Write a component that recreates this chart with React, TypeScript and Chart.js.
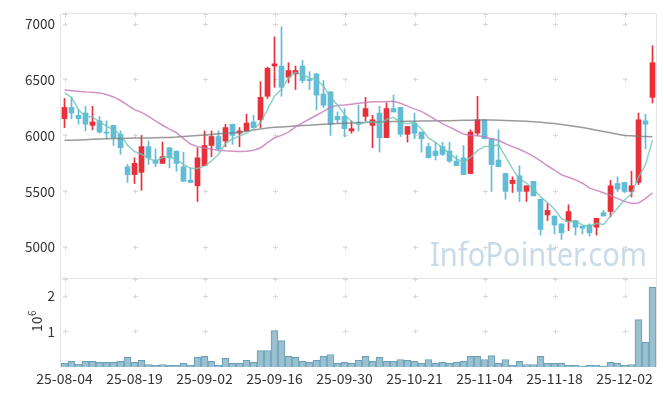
import React, { useEffect, useRef } from "react";
import { Chart, registerables } from "chart.js";

Chart.register(...registerables);

const dates = [
  "25-08-04","25-08-05","25-08-06","25-08-07","25-08-08","25-08-11","25-08-12","25-08-13","25-08-14","25-08-18",
  "25-08-19","25-08-20","25-08-21","25-08-22","25-08-25","25-08-26","25-08-27","25-08-28","25-08-29","25-09-01",
  "25-09-02","25-09-03","25-09-04","25-09-05","25-09-08","25-09-09","25-09-10","25-09-11","25-09-12","25-09-15",
  "25-09-16","25-09-17","25-09-18","25-09-19","25-09-22","25-09-23","25-09-24","25-09-25","25-09-26","25-09-29",
  "25-09-30","25-10-01","25-10-02","25-10-10","25-10-13","25-10-14","25-10-15","25-10-16","25-10-17","25-10-20",
  "25-10-21","25-10-22","25-10-23","25-10-24","25-10-27","25-10-28","25-10-29","25-10-30","25-10-31","25-11-03",
  "25-11-04","25-11-05","25-11-06","25-11-07","25-11-10","25-11-11","25-11-12","25-11-13","25-11-14","25-11-17",
  "25-11-18","25-11-19","25-11-20","25-11-21","25-11-24","25-11-25","25-11-26","25-11-27","25-11-28","25-12-01",
  "25-12-02","25-12-03","25-12-04","25-12-05","25-12-08",
];

const opens = [
  6150,6250,6180,6200,6090,6130,6030,6090,6010,5720,
  5650,5670,5900,5780,5750,5890,5860,5720,5600,5550,
  5730,5910,5990,5950,6100,6020,6040,6120,6140,6350,
  6620,6620,6520,6550,6620,6500,6550,6370,6390,6170,
  6170,6040,6120,6170,6090,6200,5980,6240,6250,6010,
  6110,6030,5900,5860,5900,5860,5770,5800,5660,6020,
  6140,5970,5780,5660,5570,5640,5500,5590,5430,5290,
  5280,5210,5230,5240,5190,5200,5180,5310,5320,5570,
  5580,5500,5580,6130,6340,
];
const highs = [
  6330,6340,6230,6260,6260,6170,6130,6090,6040,5740,
  5800,6000,5950,5880,5940,5890,5860,5850,5710,5890,
  6040,6040,6040,6100,6100,6070,6190,6180,6480,6610,
  6880,6970,6650,6620,6670,6570,6550,6490,6390,6210,
  6240,6130,6270,6340,6180,6260,6290,6360,6250,6080,
  6200,6030,5930,5940,5940,5940,5820,5910,6050,6350,
  6140,5970,6050,5660,5630,5730,5550,5590,5430,5390,
  5280,5210,5380,5240,5190,5210,5260,5330,5600,5630,
  5580,5680,6200,6190,6800,
];
const lows = [
  6070,6150,6100,6040,6050,6020,5970,5910,5830,5580,
  5570,5510,5740,5720,5750,5710,5680,5590,5580,5410,
  5730,5810,5860,5900,5920,5900,6040,6070,6070,6330,
  6430,6350,6470,6410,6470,6410,6230,6250,6000,6110,
  5990,6020,6040,6130,5890,5850,5980,6210,5990,5940,
  5970,5850,5800,5780,5820,5760,5730,5650,5660,6000,
  5970,5500,5720,5430,5490,5410,5410,5460,5110,5240,
  5120,5070,5150,5110,5120,5100,5110,5280,5270,5500,
  5490,5450,5560,5880,6290,
];
const closes = [
  6250,6200,6150,6100,6120,6030,6020,5980,5890,5650,
  5750,5900,5800,5750,5810,5800,5750,5590,5580,5800,
  5910,5990,5880,6070,6000,6040,6110,6070,6340,6600,
  6640,6430,6580,6580,6490,6490,6360,6270,6100,6140,
  6060,6060,6110,6240,6140,5980,6240,6210,6010,6080,
  6020,5970,5800,5820,5830,5770,5730,5650,6030,6140,
  5970,5740,5720,5500,5600,5500,5550,5460,5160,5330,
  5200,5130,5320,5180,5170,5130,5260,5280,5550,5520,
  5500,5550,6140,6100,6650,
];
const volumes = [
  100000,160000,80000,160000,160000,130000,130000,130000,160000,270000,
  130000,190000,70000,50000,70000,50000,50000,100000,50000,270000,
  300000,160000,50000,240000,100000,100000,190000,130000,460000,460000,
  1020000,740000,300000,270000,160000,130000,190000,300000,350000,100000,
  130000,100000,190000,300000,160000,270000,160000,160000,210000,190000,
  160000,100000,210000,100000,130000,100000,130000,160000,300000,300000,
  210000,320000,100000,210000,50000,160000,70000,70000,300000,100000,
  100000,100000,50000,50000,20000,50000,50000,20000,130000,100000,
  50000,70000,1330000,690000,2240000,
];
const ma5 = [
  6380,6340,6230,6170,6165,6121,6084,6049,6007,5912,
  5856,5832,5796,5769,5802,5812,5782,5741,5706,5704,
  5726,5773,5830,5928,5968,5995,6020,6058,6112,6232,
  6351,6414,6516,6564,6543,6513,6500,6439,6343,6272,
  6186,6125,6093,6120,6121,6105,6142,6162,6116,6105,
  6114,6060,5977,5939,5889,5839,5791,5761,5803,5864,
  5902,5902,5917,5811,5703,5610,5574,5521,5453,5400,
  5341,5256,5229,5232,5200,5186,5214,5205,5279,5350,
  5423,5479,5627,5738,5958,
];
const ma20 = [
  6406,6400,6394,6388,6385,6380,6365,6344,6312,6271,
  6230,6206,6171,6130,6091,6056,6024,5971,5923,5900,
  5888,5876,5868,5862,5859,5856,5859,5868,5888,5935,
  5979,6000,6029,6077,6112,6147,6180,6215,6253,6268,
  6271,6279,6288,6294,6300,6300,6300,6306,6288,6262,
  6235,6215,6180,6141,6106,6074,6044,6012,6000,5997,
  5988,5971,5957,5926,5900,5876,5847,5812,5773,5729,
  5691,5647,5626,5603,5573,5529,5509,5488,5464,5435,
  5411,5391,5397,5435,5488,
];
const ma60 = [
  5956,5958,5960,5962,5965,5968,5970,5972,5973,5975,
  5976,5977,5978,5980,5981,5982,5985,5990,5995,5999,
  6003,6008,6014,6019,6024,6029,6038,6048,6058,6066,
  6072,6076,6080,6084,6088,6091,6095,6099,6102,6106,
  6109,6111,6114,6116,6119,6121,6122,6124,6125,6126,
  6127,6128,6129,6130,6131,6132,6133,6135,6136,6137,
  6138,6137,6135,6133,6131,6129,6126,6122,6117,6112,
  6106,6098,6089,6080,6070,6059,6047,6035,6023,6011,
  6000,5996,5992,5990,5988,
];

const priceTicks = [5000, 5500, 6000, 6500, 7000];
const volumeTicks = [1000000, 2000000];
const labelEvery = 10;
const watermark = "InfoPointer.com";

const UP = "#e8303a";
const DOWN = "#62bcd6";
const FONT = "'Noto Sans CJK KR', 'Noto Sans', sans-serif";

const decorPlugin = {
  id: "decor",
  beforeDatasetsDraw(chart: any) {
    const { ctx, chartArea } = chart;
    const xs = chart.scales.x;
    const y = chart.scales.y;
    const yv = chart.scales.yVol;
    ctx.save();
    ctx.strokeStyle = "#e3e3e3";
    ctx.lineWidth = 1;
    ctx.beginPath();
    ctx.moveTo(chartArea.left - 0.5, chartArea.top);
    ctx.lineTo(chartArea.left - 0.5, chartArea.bottom);
    ctx.moveTo(chartArea.left, chartArea.top - 0.5);
    ctx.lineTo(chartArea.right, chartArea.top - 0.5);
    ctx.moveTo(chartArea.right + 0.5, chartArea.top);
    ctx.lineTo(chartArea.right + 0.5, chartArea.bottom);
    ctx.moveTo(chartArea.left, Math.round(y.bottom) - 0.5);
    ctx.lineTo(chartArea.right, Math.round(y.bottom) - 0.5);
    ctx.stroke();
    const yPix: number[] = [y.top, y.bottom];
    priceTicks.forEach((v) => yPix.push(y.getPixelForValue(v)));
    volumeTicks.forEach((v) => yPix.push(yv.getPixelForValue(v)));
    ctx.strokeStyle = "#dadada";
    ctx.beginPath();
    for (let i = 0; i < dates.length; i += labelEvery) {
      const px = Math.round(xs.getPixelForValue(i)) + 0.5;
      yPix.forEach((py0) => {
        const py = Math.round(py0) + 0.5;
        ctx.moveTo(px - 2.5, py);
        ctx.lineTo(px + 2.5, py);
        ctx.moveTo(px, py - 2.5);
        ctx.lineTo(px, py + 2.5);
      });
    }
    ctx.stroke();
    ctx.font = `32px 'Noto Sans', sans-serif`;
    const w = ctx.measureText(watermark).width;
    const targetW = 217;
    ctx.translate(430, y.bottom - 13);
    ctx.scale(targetW / w, 1);
    ctx.fillStyle = "rgba(186, 210, 225, 0.8)";
    ctx.textBaseline = "alphabetic";
    ctx.textAlign = "left";
    ctx.fillText(watermark, 0, 0);
    ctx.restore();
  },
  afterDraw(chart: any) {
    const { ctx } = chart;
    const yv = chart.scales.yVol;
    ctx.save();
    const cy = (yv.top + yv.bottom) / 2;
    ctx.translate(41.5, cy + 9);
    ctx.rotate(-Math.PI / 2);
    ctx.fillStyle = "#333";
    ctx.textBaseline = "alphabetic";
    ctx.textAlign = "left";
    ctx.font = `14px ${FONT}`;
    ctx.fillText("10", 0, 0);
    const w = ctx.measureText("10").width;
    ctx.font = `10px ${FONT}`;
    ctx.fillText("6", w + 0.5, -6);
    ctx.restore();
  },
};

export default function App() {
  const ref = useRef<HTMLCanvasElement>(null);
  useEffect(() => {
    if (!ref.current) return;
    const candleColors = closes.map((c, i) => (c >= opens[i] ? UP : DOWN));
    const chart = new Chart(ref.current, {
      type: "bar",
      data: {
        labels: dates,
        datasets: [
          {
            type: "line",
            label: "MA5",
            data: ma5,
            yAxisID: "y",
            borderColor: "rgba(115, 196, 184, 0.8)",
            borderWidth: 1.5,
            pointRadius: 0,
            tension: 0,
            order: 0,
          } as any,
          {
            type: "line",
            label: "MA20",
            data: ma20,
            yAxisID: "y",
            borderColor: "rgba(195, 120, 185, 0.8)",
            borderWidth: 1.5,
            pointRadius: 0,
            tension: 0,
            order: 0,
          },
          {
            type: "line",
            label: "MA60",
            data: ma60,
            yAxisID: "y",
            borderColor: "rgba(120, 120, 120, 0.75)",
            borderWidth: 1.5,
            pointRadius: 0,
            tension: 0,
            order: 0,
          },
          {
            type: "bar",
            label: "body",
            data: opens.map((o, i) => [o, closes[i]]),
            yAxisID: "y",
            backgroundColor: candleColors,
            borderWidth: 0,
            barThickness: 5,
            minBarLength: 1,
            grouped: false,
            order: 1,
          },
          {
            type: "bar",
            label: "wick",
            data: lows.map((l, i) => [l, highs[i]]),
            yAxisID: "y",
            backgroundColor: candleColors,
            borderWidth: 0,
            barThickness: 1,
            grouped: false,
            order: 2,
          },
          {
            type: "bar",
            label: "volume",
            data: volumes,
            yAxisID: "yVol",
            backgroundColor: "rgba(150, 190, 207, 0.95)",
            borderColor: "#6a9fb7",
            borderWidth: { top: 1, left: 1, right: 1, bottom: 0 },
            categoryPercentage: 1,
            barPercentage: 1,
            grouped: false,
            order: 3,
          },
        ],
      },
      options: {
        animation: false,
        responsive: false,
        maintainAspectRatio: false,
        events: [],
        layout: { padding: { top: 10, right: 9, left: 0, bottom: 0 } },
        plugins: { legend: { display: false }, tooltip: { enabled: false } },
        scales: {
          x: {
            type: "category",
            offset: true,
            grid: { display: false, drawTicks: false },
            border: { display: false },
            ticks: {
              autoSkip: false,
              maxRotation: 0,
              padding: 3,
              color: "#333",
              font: { family: FONT, size: 14 },
            },
            afterBuildTicks: (s: any) => {
              s.ticks = s.ticks.filter((t: any) => t.value % labelEvery === 0);
            },
            afterFit: (s: any) => {
              s.height = 29;
            },
          },
          yVol: {
            type: "linear",
            position: "left",
            stack: "main",
            stackWeight: 89,
            min: 0,
            max: 2470000,
            grid: { display: false, drawTicks: false },
            border: { display: false },
            ticks: {
              padding: 6,
              color: "#333",
              font: { family: FONT, size: 13.5 },
              callback: (v: any) => String(Number(v) / 1000000),
            },
            afterBuildTicks: (s: any) => {
              s.ticks = volumeTicks.map((v) => ({ value: v }));
            },
            afterFit: (s: any) => {
              s.width = 61;
            },
          },
          y: {
            type: "linear",
            position: "left",
            stack: "main",
            stackWeight: 268,
            min: 4717,
            max: 7084,
            grid: { display: false, drawTicks: false },
            border: { display: false },
            ticks: {
              padding: 6,
              color: "#333",
              font: { family: FONT, size: 13.5 },
              callback: (v: any) => String(v),
            },
            afterBuildTicks: (s: any) => {
              s.ticks = priceTicks.map((v) => ({ value: v }));
            },
            afterFit: (s: any) => {
              s.width = 61;
            },
          },
        },
      } as any,
      plugins: [decorPlugin],
    });
    return () => chart.destroy();
  }, []);
  return (
    <div style={{ position: "fixed", left: 0, top: 0, width: 665, height: 396, background: "#fff" }}>
      <canvas ref={ref} width={665} height={396} style={{ width: 665, height: 396, display: "block" }} />
    </div>
  );
}
